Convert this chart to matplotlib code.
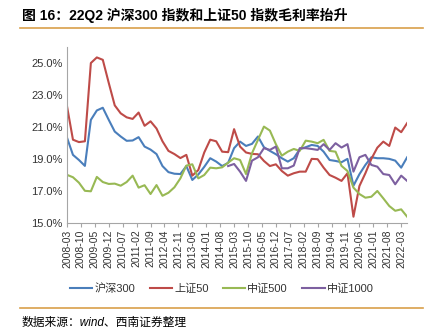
import matplotlib
matplotlib.use('Agg')
import matplotlib.pyplot as plt
import numpy as np

plt.rcParams['font.family'] = ['Liberation Sans', 'Noto Sans CJK SC']

# quarterly data, 2008-03 .. 2022-06
start_year, start_month = 2008, 3
hs300 = [20.33, 19.25, 18.93, 18.56, 21.44, 22.03, 22.2, 21.44, 20.71, 20.4,
         20.13, 20.15, 20.36, 19.77, 19.58, 19.3, 18.55, 18.17, 18.07, 18.05,
         18.55, 17.68, 18.02, 18.5, 19.04, 18.83, 18.55, 18.75, 19.67, 20.08,
         19.81, 19.94, 20.4, 19.73, 19.5, 19.29, 19.04, 18.83, 19.04, 19.6,
         19.73, 19.87, 19.81, 19.45, 18.93, 18.87, 18.79, 19.0, 17.32, 18.04,
         18.62, 19.1, 19.04, 19.04, 19.0, 18.89, 18.45, 19.1]
sz50 = [22.3, 20.2, 20.05, 20.1, 25.0, 25.35, 25.2, 23.75, 22.35, 21.85,
        21.6, 21.5, 21.9, 21.07, 21.35, 20.9, 20.1, 19.5, 19.3, 19.05,
        19.25, 17.95, 18.3, 19.4, 20.2, 20.1, 19.45, 19.42, 20.86, 19.77,
        19.4, 19.31, 19.29, 18.87, 18.55, 18.66, 18.24, 17.95, 18.1, 18.2,
        18.2, 19.0, 18.98, 18.45, 17.99, 17.82, 17.62, 18.1, 15.38, 17.3,
        18.1, 19.0, 19.7, 20.08, 19.81, 20.96, 20.67, 21.24]
zz500 = [18.0, 17.85, 17.51, 17.0, 16.97, 17.87, 17.55, 17.43, 17.45, 17.32,
         17.55, 17.95, 17.2, 17.35, 16.8, 17.36, 16.69, 16.88, 17.22, 17.78,
         18.58, 18.66, 17.78, 17.99, 18.45, 18.41, 18.47, 18.76, 19.04, 18.93,
         18.05, 19.35, 20.19, 21.02, 20.77, 19.92, 19.2, 19.45, 19.62, 19.5,
         20.14, 20.08, 19.98, 20.19, 19.5, 19.45, 18.56, 18.24, 17.2, 16.8,
         16.57, 16.63, 16.99, 16.53, 16.05, 15.75, 15.84, 15.38]
# 中证1000 starts at quarter index 27
zz1000_start = 27
zz1000 = [18.55, 18.68, 18.2, 17.62, 18.89, 19.1, 19.67, 19.56, 19.77, 18.41,
          18.41, 18.58, 19.67, 19.67, 19.62, 19.56, 19.92, 19.56, 19.98, 19.71,
          19.92, 18.2, 19.1, 19.25, 18.62, 18.51, 18.05, 17.99, 17.41, 17.95,
          17.62]

names = ['沪深300', '上证50', '中证500', '中证1000']
colors = ['#4a7ebb', '#be4b48', '#98b954', '#7d60a0']

# x positions in months since 2008-03
x = np.arange(len(hs300)) * 3
x1000 = (np.arange(len(zz1000)) + zz1000_start) * 3

fig = plt.figure(figsize=(4.35, 3.36), dpi=100)
ax = fig.add_axes([0.154, 0.337, 0.782, 0.523])

ax.plot(x, hs300, color=colors[0], lw=1.5, label=names[0])
ax.plot(x, sz50, color=colors[1], lw=1.5, label=names[1])
ax.plot(x, zz500, color=colors[2], lw=1.5, label=names[2])
ax.plot(x1000, zz1000, color=colors[3], lw=1.5, label=names[3])

ax.set_ylim(15, 26)
ax.set_yticks([15, 17, 19, 21, 23, 25])
ax.set_yticklabels(['%.1f%%' % v for v in [15, 17, 19, 21, 23, 25]], fontsize=8, color='#333333')
ax.set_xlim(0, x[-1])

# tick every 7 months
tick_pos = np.arange(0, x[-1] + 1, 7)
tick_lab = []
for m in tick_pos:
    total = start_month - 1 + m
    tick_lab.append('%d-%02d' % (start_year + total // 12, total % 12 + 1))
ax.set_xticks(tick_pos)
ax.set_xticklabels(tick_lab, rotation=90, fontsize=7.5, color='#333333')

for s in ['top', 'right']:
    ax.spines[s].set_visible(False)
for s in ['left', 'bottom']:
    ax.spines[s].set_color('#a6a6a6')
ax.tick_params(axis='x', direction='out', length=3, color='#a6a6a6', pad=2)
ax.tick_params(axis='y', length=0, pad=3)

leg = fig.legend(loc='center', bbox_to_anchor=(0.51, 0.14), ncol=4, frameon=False,
                 fontsize=8, handlelength=2.0, columnspacing=1.3, handletextpad=0.2)
for t in leg.get_texts():
    t.set_color('#333333')

# title and source
fig.text(0.05, 0.955, '图 16：22Q2 沪深300 指数和上证50 指数毛利率抬升',
         fontsize=10, fontweight='bold', va='center', ha='left')
fig.add_artist(plt.Line2D([0.046, 0.973], [0.917, 0.917], color='#d9a04a', lw=1.2))
fig.add_artist(plt.Line2D([0.046, 0.973], [0.083, 0.083], color='#d9a04a', lw=1.2))
fig.text(0.05, 0.04, '数据来源：wind、西南证券整理', fontsize=8.5, style='italic',
         va='center', ha='left')

fig.savefig('out.png', dpi=100)
